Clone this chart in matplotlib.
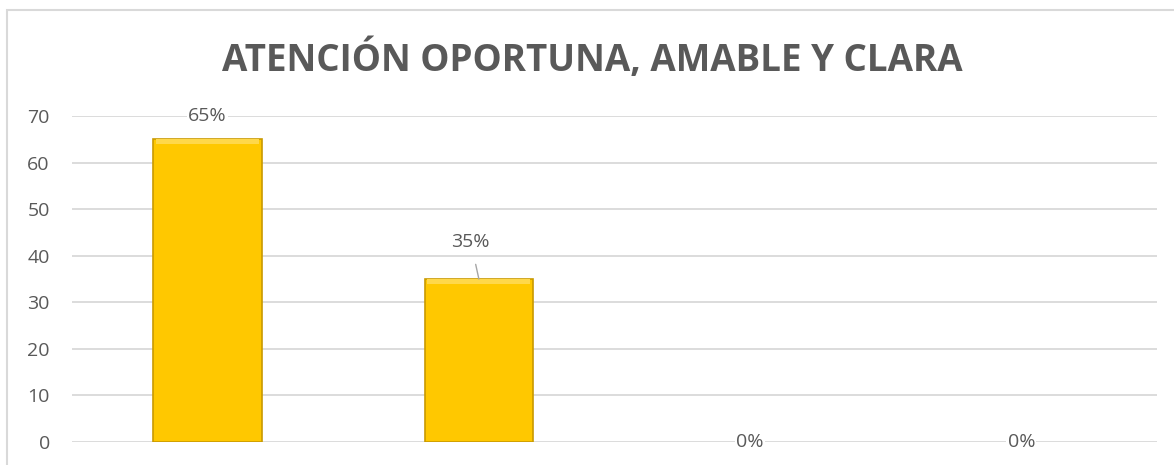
import matplotlib
matplotlib.use("Agg")
import matplotlib.pyplot as plt
from matplotlib.patches import Rectangle

# datos del grafico
categorias = ["1", "2", "3", "4"]
valores = [65, 35, 0, 0]
etiquetas = ["65%", "35%", "0%", "0%"]
yticks = [0, 10, 20, 30, 40, 50, 60, 70]
titulo = "ATENCIÓN OPORTUNA, AMABLE Y CLARA"

plt.rcParams['font.family'] = ['Open Sans', 'DejaVu Sans']
gris = '#595959'

fig = plt.figure(figsize=(11.74, 4.65), dpi=100, facecolor='white')
ax = fig.add_axes([72/1174, 1-442/465, (1157-72)/1174, (442-116)/465])

# borde del grafico (solo se ve arriba e izquierda)
fig.patches.append(Rectangle((7/1174, -0.1), 1.2, 1.1 - 10/465, transform=fig.transFigure,
                             fill=False, edgecolor='#d9d9d9', linewidth=1.5, zorder=0))

x = list(range(len(categorias)))
anchos_borde = [1.2 if v > 0 else 0 for v in valores]
ax.bar(x, valores, width=0.4, color='#FFC800', edgecolor='#C99A00', linewidth=anchos_borde, zorder=3)
# bisel claro arriba
ax.bar(x, [1.0 if v else 0 for v in valores], bottom=[v - 1.0 if v else 0 for v in valores],
       width=0.38, color='#FFD84A', linewidth=0, zorder=4)

ax.set_xlim(-0.5, 3.5)
ax.set_ylim(0, 70)
ax.set_yticks(yticks)
ax.set_xticks([])
ax.grid(axis='y', color='#d9d9d9', linewidth=1.3, zorder=0)
for s in ax.spines.values():
    s.set_visible(False)
ax.tick_params(axis='y', length=0, pad=16, labelsize=14, labelcolor=gris)

# etiquetas de datos
ax.text(0, 70, etiquetas[0], ha='center', va='center', fontsize=14, color=gris, zorder=5,
        bbox=dict(facecolor='white', edgecolor='none', pad=1))
ax.annotate(etiquetas[1], xy=(1.0, 35), xytext=(0.97, 43), ha='center', va='center',
            fontsize=14, color=gris, zorder=5,
            arrowprops=dict(arrowstyle='-', color='#a6a6a6', lw=1, shrinkA=8, shrinkB=0))
for i in (2, 3):
    ax.text(i, valores[i], etiquetas[i], ha='center', va='center', fontsize=14, color=gris, zorder=5,
            bbox=dict(facecolor='white', edgecolor='none', pad=1))

fig.text(592/1174, 1-60/465, titulo, ha='center', va='center', fontsize=26.5,
         fontweight='bold', color=gris)

fig.savefig('out.png', dpi=100, facecolor='white')
